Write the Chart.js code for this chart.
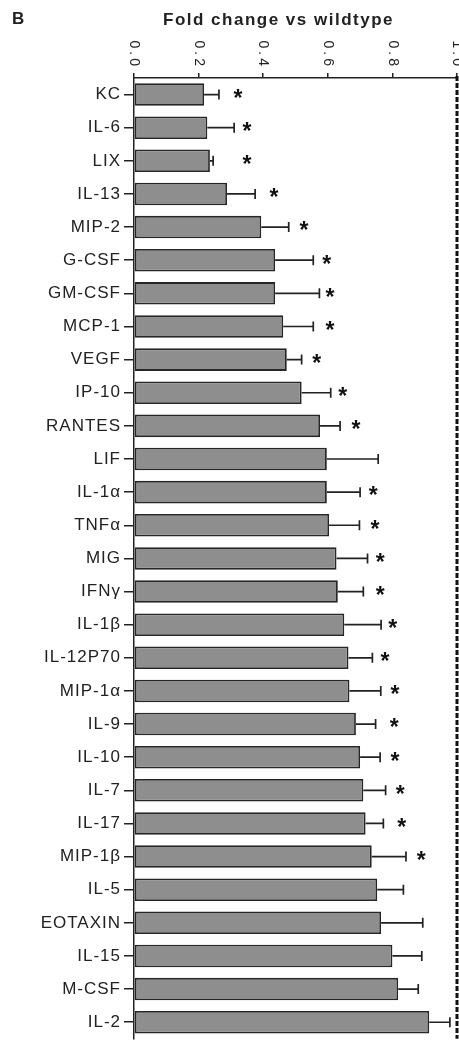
<!DOCTYPE html>
<html>
<head>
<meta charset="utf-8">
<script src="https://cdn.jsdelivr.net/npm/chart.js@4.4.1/dist/chart.umd.min.js"></script>
<style>
  html,body{margin:0;padding:0;background:#fff;}
  #wrap{position:relative;width:459px;height:1052px;overflow:hidden;}
  #chart{position:absolute;left:0;top:0;}
  .lbl{position:absolute;font-family:"Liberation Sans",Arial,sans-serif;font-weight:bold;color:#222;white-space:nowrap;line-height:20px;}
</style>
</head>
<body>
<div id="wrap">
  <canvas id="chart" width="459" height="1052"></canvas>
  <div class="lbl" style="left:12px;top:9px;font-size:17px">B</div>
  <div class="lbl" style="left:163px;top:10px;font-size:17px;letter-spacing:1.5px">Fold change vs wildtype</div>
</div>
<script>
'use strict';

// cytokines, top to bottom
const cytokines = ['KC','IL-6','LIX','IL-13','MIP-2','G-CSF','GM-CSF','MCP-1','VEGF','IP-10','RANTES','LIF',
  'IL-1α','TNFα','MIG','IFNγ','IL-1β','IL-12P70','MIP-1α','IL-9','IL-10','IL-7','IL-17','MIP-1β',
  'IL-5','EOTAXIN','IL-15','M-CSF','IL-2'];
// mean fold change vs wildtype
const foldChange = [0.217,0.227,0.235,0.288,0.394,0.437,0.437,0.462,0.473,0.519,0.576,0.597,
  0.597,0.604,0.627,0.631,0.651,0.664,0.667,0.687,0.700,0.710,0.717,0.736,
  0.753,0.765,0.800,0.818,0.914];
// upper end of the error bar
const errUpper = [0.263,0.310,0.245,0.375,0.479,0.555,0.574,0.555,0.519,0.609,0.638,0.756,
  0.700,0.698,0.723,0.710,0.765,0.738,0.764,0.748,0.762,0.779,0.772,0.842,
  0.834,0.894,0.891,0.880,0.978];
// where the significance star sits (null = none)
const starAt = [0.322,0.350,0.350,0.433,0.526,0.597,0.607,0.607,0.566,0.646,0.687,null,
  0.741,0.746,0.762,0.762,0.801,0.777,0.808,0.806,0.808,0.824,0.829,0.889,
  null,null,null,null,null];
const xTicks = [0,0.2,0.4,0.6,0.8,1.0];
const refLine = 1.0;

const FONT = '"Liberation Sans", Arial, sans-serif';

// wider letter spacing, like the scanned figure
const spacing = {
  id:'spacing',
  beforeDraw(chart){ chart.ctx.letterSpacing = '1px'; }
};

// error bars, stars, rotated top tick labels, dashed reference line
const extras = {
  id:'extras',
  afterDatasetsDraw(chart){
    const ctx = chart.ctx, xs = chart.scales.x;
    const meta = chart.getDatasetMeta(0);
    ctx.save();
    ctx.letterSpacing = '0px';
    ctx.strokeStyle = '#222'; ctx.lineWidth = 1.7;
    meta.data.forEach((bar,i)=>{
      const y = bar.y, x0 = xs.getPixelForValue(foldChange[i]), x1 = xs.getPixelForValue(errUpper[i]);
      ctx.beginPath(); ctx.moveTo(x0,y); ctx.lineTo(x1,y);
      ctx.moveTo(x1,y-5); ctx.lineTo(x1,y+5); ctx.stroke();
      if (starAt[i]!=null) {
        ctx.fillStyle = '#111';
        ctx.font = 'bold 23px '+FONT;
        ctx.textAlign = 'center'; ctx.textBaseline = 'middle';
        ctx.fillText('*', xs.getPixelForValue(starAt[i]), y+5);
      }
    });
    // dashed line at 1.0
    const xr = xs.getPixelForValue(refLine);
    ctx.setLineDash([5,2]); ctx.lineWidth = 3; ctx.strokeStyle = '#111';
    ctx.beginPath(); ctx.moveTo(xr, chart.chartArea.top-2); ctx.lineTo(xr, chart.chartArea.bottom); ctx.stroke();
    ctx.setLineDash([]);
    // tick labels, rotated clockwise
    ctx.fillStyle = '#222'; ctx.font = '14px '+FONT;
    ctx.letterSpacing = '3px';
    ctx.textAlign = 'right'; ctx.textBaseline = 'middle';
    xTicks.forEach(v=>{
      const x = xs.getPixelForValue(v);
      ctx.save(); ctx.translate(x, chart.chartArea.top-9); ctx.rotate(Math.PI/2);
      ctx.fillText(v.toFixed(1),0,0); ctx.restore();
    });
    ctx.restore();
  }
};

new Chart(document.getElementById('chart'),{
  type:'bar',
  data:{
    labels:cytokines,
    datasets:[{data:foldChange,backgroundColor:'#8e8e8e',borderColor:'#262626',borderWidth:1.8,borderSkipped:false,
      categoryPercentage:1,barPercentage:0.68}]
  },
  options:{
    indexAxis:'y',responsive:false,animation:false,
    layout:{padding:{left:0,right:2,top:0,bottom:0}},
    plugins:{legend:{display:false},tooltip:{enabled:false}},
    scales:{
      x:{position:'top',min:0,max:1,
        afterBuildTicks:s=>{s.ticks=xTicks.map(v=>({value:v}));},
        afterFit:s=>{s.height=78;},
        ticks:{display:false},
        grid:{drawOnChartArea:false,drawTicks:true,tickLength:5,color:'#222',lineWidth:1.5},
        border:{display:true,color:'#222',width:1.5}},
      y:{
        afterFit:s=>{s.width=134;},
        ticks:{color:'#222',font:{family:FONT,size:17},padding:3},
        grid:{offset:false,drawOnChartArea:false,drawTicks:true,tickLength:10,color:'#222',lineWidth:1.5},
        border:{display:true,color:'#222',width:1.5}}
    }
  },
  plugins:[spacing,extras]
});
</script>
</body>
</html>
